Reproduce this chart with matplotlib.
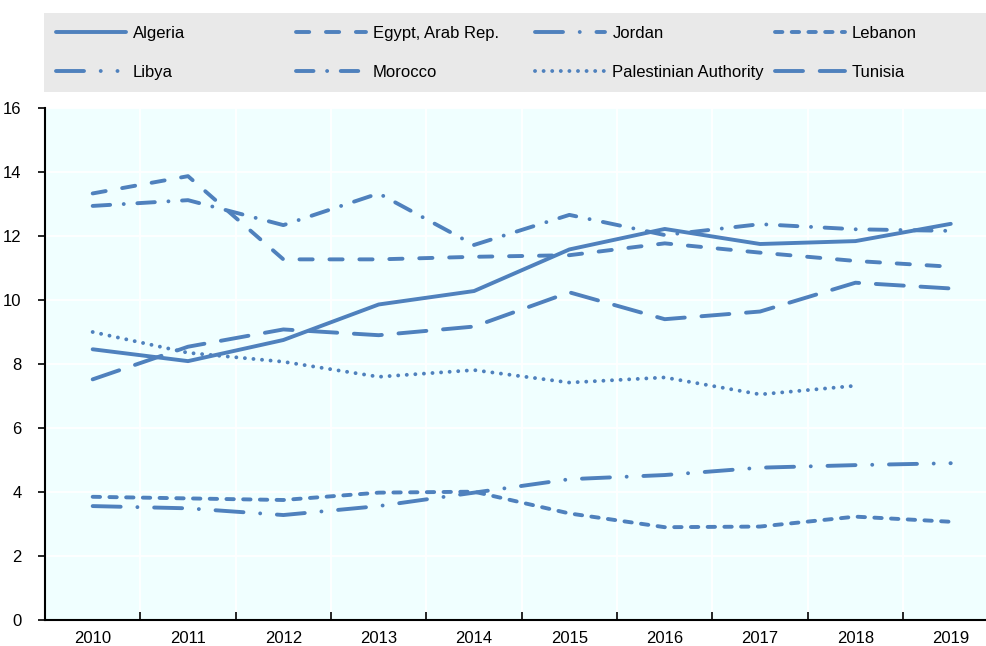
import matplotlib.pyplot as plt
import matplotlib.patches as mpatches
import numpy as np

plt.rcParams["font.family"] = ["Liberation Sans", "DejaVu Sans"]

years = [2010, 2011, 2012, 2013, 2014, 2015, 2016, 2017, 2018, 2019]

algeria = [8.46, 8.09, 8.75, 9.86, 10.28, 11.58, 12.22, 11.75, 11.84, 12.38]
egypt = [13.33, 13.87, 11.27, 11.27, 11.35, 11.4, 11.77, 11.48, 11.22, 11.04]
jordan = [3.56, 3.49, 3.28, 3.56, 3.98, 4.40, 4.53, 4.76, 4.84, 4.90]
lebanon = [3.85, 3.80, 3.75, 3.98, 4.01, 3.33, 2.90, 2.92, 3.23, 3.07]
libya = [np.nan] * 10
morocco = [12.94, 13.12, 12.34, 13.33, 11.72, 12.66, 12.03, 12.37, 12.21, 12.16]
palestine = [9.0, 8.35, 8.07, 7.6, 7.81, 7.42, 7.58, 7.05, 7.32, np.nan]
tunisia = [7.52, 8.54, 9.08, 8.9, 9.17, 10.24, 9.4, 9.64, 10.54, 10.36]

blue = "#4F81BD"

series = [
    ("Algeria", algeria, None),
    ("Egypt, Arab Rep.", egypt, (0, (3.4, 4.3))),
    ("Jordan", jordan, (0, (7.2, 4.3, 0.01, 4.3))),
    ("Lebanon", lebanon, (0, (1.9, 2.4))),
    ("Libya", libya, (0, (7.2, 4.3, 0.01, 4.3, 0.01, 4.3))),
    ("Morocco", morocco, (0, (4.5, 3.5, 0.01, 3.5))),
    ("Palestinian Authority", palestine, (0, (0.01, 2.2))),
    ("Tunisia", tunisia, (0, (7.2, 4.3))),
]

W, H = 987, 646
fig = plt.figure(figsize=(W / 100, H / 100), dpi=100)
ax = fig.add_axes([45 / W, 26 / H, 942 / W, 512 / H])
ax.set_facecolor("#F0FFFF")

x = np.arange(len(years))
handles = []
for name, vals, ls in series:
    if ls is None:
        h, = ax.plot(x, vals, color=blue, lw=2.8, label=name,
                     solid_capstyle="round", solid_joinstyle="round")
    else:
        h, = ax.plot(x, vals, color=blue, lw=2.8, label=name, linestyle=ls,
                     dash_capstyle="round", dash_joinstyle="round")
    handles.append(h)

ax.set_ylim(0, 16)
ax.set_yticks(np.arange(0, 17, 2))
ax.set_xlim(-0.5, 9.38)
ax.set_xticks(x)
ax.set_xticklabels([str(y) for y in years])
ax.set_xticks(np.arange(0.5, 9.5, 1), minor=True)
ax.tick_params(axis="x", which="major", length=0, labelsize=12, pad=8)
ax.tick_params(axis="x", which="minor", length=6, width=1.2, direction="in")
ax.tick_params(axis="y", length=5, width=1.2, labelsize=12, pad=12)

ax.grid(axis="y", color="white", lw=1.3)
ax.grid(axis="x", which="minor", color="white", lw=1.3)
ax.set_axisbelow(True)

for s in ["top", "right"]:
    ax.spines[s].set_visible(False)
for s in ["left", "bottom"]:
    ax.spines[s].set_linewidth(1.5)
    ax.spines[s].set_color("black")

# grey legend band
fig.patches.append(mpatches.Rectangle((44 / W, 1 - 92 / H), 943 / W, 79 / H,
                                      transform=fig.transFigure,
                                      facecolor="#E9E9E9", edgecolor="none"))

# four legend columns, filled row by row
col_x = [56, 295.7, 535.4, 775]
for k in range(4):
    leg = fig.legend(handles=[handles[k], handles[k + 4]], loc="center left",
                     bbox_to_anchor=(col_x[k] / W, 1 - 53 / H),
                     frameon=False, fontsize=12, handlelength=4.2,
                     handletextpad=0.42, borderpad=0, borderaxespad=0,
                     labelspacing=1.45)

fig.savefig("out.png", dpi=100)
